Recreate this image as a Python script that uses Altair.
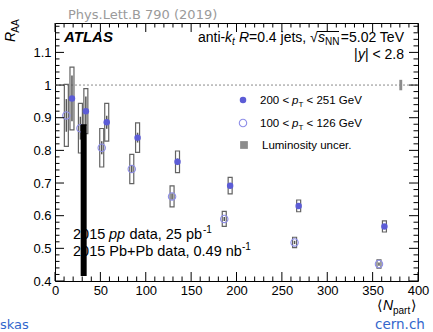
import altair as alt
import pandas as pd

# ---------------- data ----------------
npart_hi = [18.7, 34.0, 57.0, 91.0, 135.0, 193.0, 268.5, 363.0]
raa_hi = [0.959, 0.920, 0.886, 0.839, 0.765, 0.692, 0.630, 0.567]
sys_hi = [0.096, 0.069, 0.058, 0.045, 0.033, 0.025, 0.018, 0.017]
stat_hi = [0.070, 0.045, 0.020, 0.015, 0.010, 0.007, 0.005, 0.005]

npart_lo = [12.5, 28.0, 51.5, 84.6, 129.0, 186.5, 264.0, 357.0]
raa_lo = [0.907, 0.868, 0.808, 0.743, 0.659, 0.590, 0.518, 0.452]
sys_lo = [0.095, 0.076, 0.059, 0.045, 0.032, 0.023, 0.016, 0.013]
stat_lo = [0.050, 0.035, 0.020, 0.012, 0.010, 0.006, 0.005, 0.005]

lumi_npart = [381.0]
lumi_center = [1.0]
lumi_unc = [0.016]

unity = [1.0]

bar_npart = [31.6]
bar_low = [0.415]
bar_high = [0.88]

x_major = [0, 50, 100, 150, 200, 250, 300, 350, 400]
x_minor = [v for v in range(0, 401, 10) if v % 50]
y_major = [0.4, 0.5, 0.6, 0.7, 0.8, 0.9, 1.0, 1.1]
y_minor = [round(0.4 + 0.02 * i, 2) for i in range(40) if i % 5]

# ---------------- layout ----------------
FONT = "Liberation Sans"
L, T = 55, 23          # plot origin in page pixels
W, H = 363, 258        # plot area
BOXW = 2.2             # half width of syst. boxes (N_part units)
BLUE_F = "#5c5cd6"
BLUE_O = "#8e8ee8"

xs = alt.Scale(domain=[0, 400], nice=False, zero=False)
ys = alt.Scale(domain=[0.4, 1.19], nice=False, zero=False)
xaxis = alt.Axis(values=x_major, ticks=False, domain=False, grid=False,
                 labelFont=FONT, labelFontSize=13, labelColor="black",
                 labelPadding=3, labelFlush=False, labelOverlap=False, title=None)
yaxis = alt.Axis(values=y_major, format=".1~f", ticks=False, domain=False, grid=False,
                 labelFont=FONT, labelFontSize=13, labelColor="black",
                 labelPadding=4, labelFlush=False, labelOverlap=False, title=None)


def X(f):
    return alt.X(f, scale=xs, axis=xaxis, title=None)


def Y(f):
    return alt.Y(f, scale=ys, axis=yaxis, title=None)


hi = pd.DataFrame({"n": npart_hi, "r": raa_hi, "s": sys_hi, "st": stat_hi})
lo = pd.DataFrame({"n": npart_lo, "r": raa_lo, "s": sys_lo, "st": stat_lo})


def boxes(df):
    return alt.Chart(df).transform_calculate(
        x1=f"datum.n - {BOXW}", x2=f"datum.n + {BOXW}",
        y1="datum.r - datum.s", y2="datum.r + datum.s",
    ).mark_rect(fillOpacity=0, stroke="#636363", strokeWidth=1.2).encode(
        x=X("x1:Q"), x2="x2:Q", y=Y("y1:Q"), y2="y2:Q")


def stats(df):
    return alt.Chart(df).transform_calculate(
        y1="datum.r - datum.st", y2="datum.r + datum.st",
    ).mark_rule(color="#555555", strokeWidth=1.5).encode(
        x=X("n:Q"), y=Y("y1:Q"), y2="y2:Q")


unity_line = alt.Chart(pd.DataFrame({"u": unity})).mark_rule(
    color="#8a8a8a", strokeDash=[2, 2], strokeWidth=1).encode(
    y=Y("u:Q"), x=alt.value(0), x2=alt.value(W))

lumi = alt.Chart(pd.DataFrame({"n": lumi_npart, "c": lumi_center, "u": lumi_unc})).transform_calculate(
    x1="datum.n - 1.6", x2="datum.n + 1.6", y1="datum.c - datum.u", y2="datum.c + datum.u"
).mark_rect(color="#8c8c8c").encode(x=X("x1:Q"), x2="x2:Q", y=Y("y1:Q"), y2="y2:Q")

pts_hi = alt.Chart(hi).mark_point(shape="circle", filled=True, size=42, color=BLUE_F, opacity=1).encode(
    x=X("n:Q"), y=Y("r:Q"))
pts_lo = alt.Chart(lo).mark_point(shape="circle", filled=False, size=55, color=BLUE_O, strokeWidth=1.1,
                                  opacity=1).encode(x=X("n:Q"), y=Y("r:Q"))

blackbar = alt.Chart(pd.DataFrame({"n": bar_npart, "a": bar_low, "b": bar_high})).transform_calculate(
    x1="datum.n - 3.3", x2="datum.n + 3.3"
).mark_rect(color="black").encode(x=X("x1:Q"), x2="x2:Q", y=Y("a:Q"), y2="b:Q")


# ticks (inward, all four sides)
def yticks(vals, ln):
    d = pd.DataFrame({"v": vals})
    left = alt.Chart(d).mark_rule(color="black", strokeWidth=1).encode(
        y=Y("v:Q"), x=alt.value(0), x2=alt.value(ln))
    right = alt.Chart(d).mark_rule(color="black", strokeWidth=1).encode(
        y=Y("v:Q"), x=alt.value(W - ln), x2=alt.value(W))
    return [left, right]


def xticks(vals, ln):
    d = pd.DataFrame({"v": vals})
    bot = alt.Chart(d).mark_rule(color="black", strokeWidth=1).encode(
        x=X("v:Q"), y=alt.value(H - ln), y2=alt.value(H))
    top = alt.Chart(d).mark_rule(color="black", strokeWidth=1).encode(
        x=X("v:Q"), y=alt.value(0), y2=alt.value(ln))
    return [bot, top]


one = pd.DataFrame({"k": [0]})


def txt(s, x, y, size, style="normal", weight="normal", color="black", align="left",
        baseline="alphabetic", angle=0, font=FONT):
    kw = dict(text=s, align=align, baseline=baseline, fontSize=size, fontStyle=style,
              fontWeight=weight, color=color, font=font)
    if angle:
        kw["angle"] = angle
    return alt.Chart(one).mark_text(**kw).encode(x=alt.value(x - L), y=alt.value(y - T))


def hline(x1, x2, y, color="black", w=1):
    return alt.Chart(one).mark_rule(color=color, strokeWidth=w).encode(
        x=alt.value(x1 - L), x2=alt.value(x2 - L), y=alt.value(y - T))


def mk(x, y, shape, filled, color, size):
    return alt.Chart(one).mark_point(shape=shape, filled=filled, color=color, size=size,
                                     opacity=1, strokeWidth=1.1).encode(
        x=alt.value(x - L), y=alt.value(y - T))


texts = [
    txt("Phys.Lett.B 790 (2019)", 68, 19, 13, color="#9a9a9a", font="DejaVu Sans"),
    txt("ATLAS", 64, 42, 15, style="italic", weight="bold"),
    # anti-k_t R=0.4 jets, sqrt(s_NN)=5.02 TeV
    txt("anti-", 198, 42, 14),
    txt("k", 225, 42, 14, style="italic"),
    txt("t", 232, 45, 10, style="italic"),
    txt("R", 239, 42, 14, style="italic"),
    txt("=0.4 jets,", 249, 42, 14),
    txt("\u221a", 310, 42, 14),
    txt("s", 318, 42, 14, style="italic"),
    txt("NN", 325, 45, 10),
    txt("=5.02 TeV", 404, 42, 14, align="right"),
    # |y| < 2.8
    txt("| < 2.8", 404, 59, 14, align="right"),
    txt("y", 358, 59, 14, style="italic"),
    txt("|", 354, 59, 14),
    # legend
    txt("200 <", 260, 104, 11.5),
    txt("p", 292, 104, 11.5, style="italic"),
    txt("T", 298.5, 107, 8),
    txt("< 251 GeV", 306.5, 104, 11.5),
    txt("100 <", 260, 127, 11.5),
    txt("p", 292, 127, 11.5, style="italic"),
    txt("T", 298.5, 130, 8),
    txt("< 126 GeV", 306.5, 127, 11.5),
    txt("Luminosity uncer.", 262, 149, 11.5),
    # data set labels
    txt("2015", 73, 239, 14.5),
    txt("pp", 109, 239, 14.5, style="italic"),
    txt("data, 25 pb", 129.5, 239, 14.5),
    txt("-1", 203, 233, 10),
    txt("2015 Pb+Pb data, 0.49 nb", 73, 256, 14.5),
    txt("-1", 242, 250, 10),
    # axis titles
    txt("R", 11, 37, 14, style="italic", align="center", baseline="middle", angle=270),
    txt("AA", 16, 26, 10, align="center", baseline="middle", angle=270),
    txt("\u27e8", 377, 310, 14, font="DejaVu Sans"),
    txt("N", 383, 310, 14, style="italic"),
    txt("part", 393, 314, 10),
    txt("\u27e9", 411, 310, 14, font="DejaVu Sans"),
    # page fragments
    txt("skas", 0, 329, 13, color="#3366cc", font="DejaVu Sans"),
    txt("cern.ch", 375, 329, 13.5, color="#3366cc", font="DejaVu Sans"),
]

extras = [
    hline(317, 339, 31.5),
    mk(243, 100, "circle", True, BLUE_F, 42),
    mk(243, 123, "circle", False, BLUE_O, 55),
    mk(244, 145, "square", True, "#8c8c8c", 60),
]

layers = ([unity_line, lumi, boxes(lo), boxes(hi), stats(lo), stats(hi), pts_lo, pts_hi, blackbar]
          + yticks(y_major, 9) + yticks(y_minor, 4.5) + xticks(x_major, 9) + xticks(x_minor, 4.5)
          + texts + extras)

chart = alt.layer(*layers).properties(
    width=W, height=H,
    autosize=alt.AutoSizeParams(type="none"),
    padding={"left": L, "top": T, "right": 433 - L - W, "bottom": 332 - T - H},
    background="white",
).configure_view(stroke="black", strokeWidth=1)

chart.save("out.html", embed_options={"renderer": "svg", "actions": False})
